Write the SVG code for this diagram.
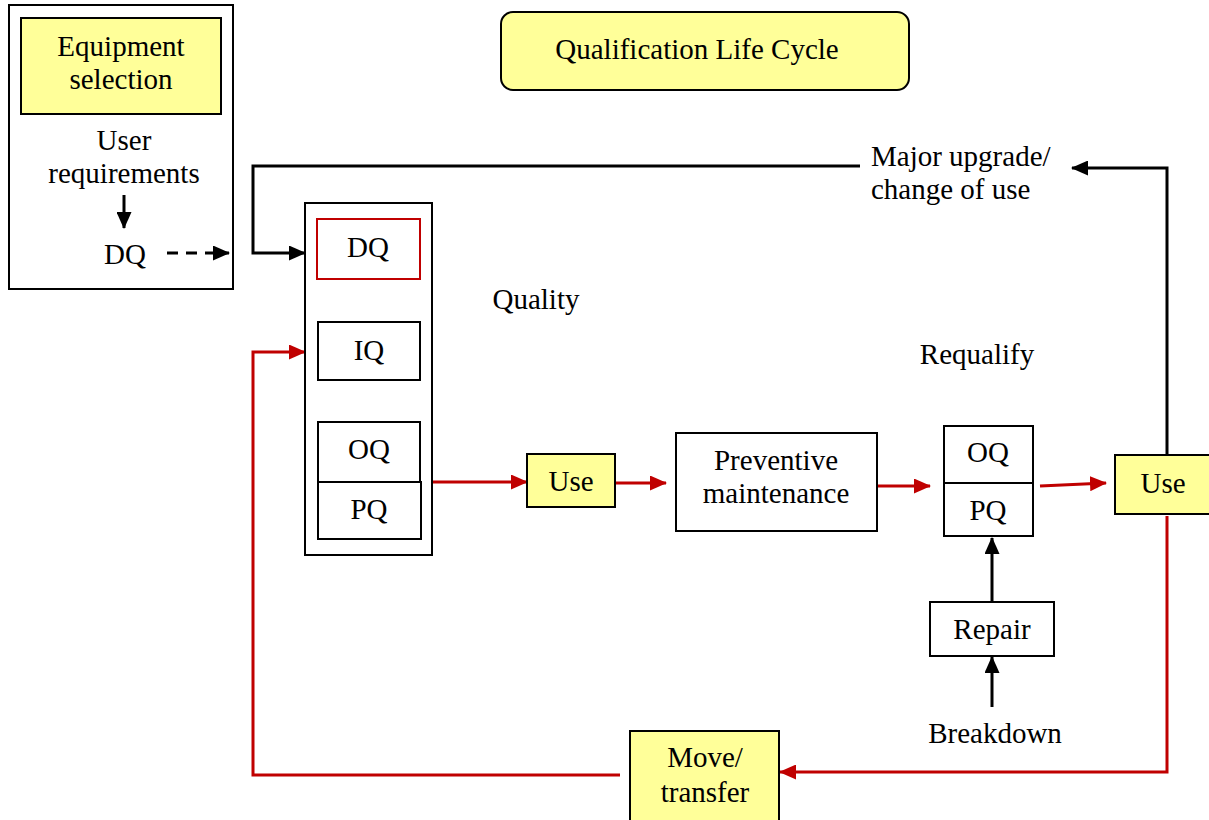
<svg xmlns="http://www.w3.org/2000/svg" width="1209" height="820" viewBox="0 0 1209 820">
<style>
text{font-family:"Liberation Serif","Times New Roman",serif;font-size:29px;fill:#000;text-anchor:middle}
.box{fill:#fff;stroke:#000;stroke-width:2}
.yel{fill:#ffff99;stroke:#000;stroke-width:2}
.blk{fill:none;stroke:#000;stroke-width:3}
.red{fill:none;stroke:#c00000;stroke-width:3}
</style>
<defs>
<marker id="ab" markerUnits="userSpaceOnUse" markerWidth="17" markerHeight="15" refX="16" refY="7.5" orient="auto"><path d="M0,0 L17,7.5 L0,15 z" fill="#000"/></marker>
<marker id="ar" markerUnits="userSpaceOnUse" markerWidth="17" markerHeight="15" refX="16" refY="7.5" orient="auto"><path d="M0,0 L17,7.5 L0,15 z" fill="#c00000"/></marker>
</defs>
<rect width="1209" height="820" fill="#fff"/>
<g id="left-panel">
<rect x="9" y="5" width="224" height="284" fill="none" stroke="#000" stroke-width="2"/>
</g>
<g id="connectors">
<path class="blk" d="M860 166 H253 V253 H305" marker-end="url(#ab)"/>
<path class="blk" d="M1167 455 V168 H1072" marker-end="url(#ab)"/>
<path class="blk" d="M167 253 H229" stroke-dasharray="11 8" marker-end="url(#ab)"/>
<path class="blk" d="M124 195 V228" marker-end="url(#ab)"/>
<path class="red" d="M620 775 H253 V352 H305" marker-end="url(#ar)"/>
<path class="red" d="M1167 516 V772 H780" marker-end="url(#ar)"/>
<path class="red" d="M432 482 H527" marker-end="url(#ar)"/>
<path class="red" d="M615 483 H666" marker-end="url(#ar)"/>
<path class="red" d="M878 486 H930" marker-end="url(#ar)"/>
<path class="red" d="M1040 486 L1106 483" marker-end="url(#ar)"/>
<path class="blk" d="M992 602 V538" marker-end="url(#ab)"/>
<path class="blk" d="M992 707 V657" marker-end="url(#ab)"/>
</g>
<g id="equipment-selection">
<rect class="yel" x="21" y="18" width="200" height="96"/>
<text x="121" y="56">Equipment</text>
<text x="121" y="89">selection</text>
</g>
<g id="user-requirements">
<text x="124" y="150">User</text>
<text x="124" y="183">requirements</text>
</g>
<g id="dq-label"><text x="125" y="264">DQ</text></g>
<g id="title">
<rect class="yel" x="501" y="12" width="408" height="78" rx="12"/>
<text x="697" y="59">Qualification Life Cycle</text>
</g>
<g id="quality-column">
<rect class="box" x="305" y="203" width="127" height="352"/>
</g>
<g id="dq"><rect x="317" y="219" width="103" height="60" fill="#fff" stroke="#c00000" stroke-width="2"/><text x="368" y="257">DQ</text></g>
<g id="iq"><rect class="box" x="318" y="322" width="102" height="58"/><text x="369" y="360">IQ</text></g>
<g id="oq"><rect class="box" x="318" y="422" width="102" height="60"/><text x="369" y="459">OQ</text></g>
<g id="pq"><rect class="box" x="318" y="482" width="103" height="57"/><text x="369" y="519">PQ</text></g>
<g id="quality-label"><text x="536" y="309">Quality</text></g>
<g id="use1"><rect class="yel" x="527" y="454" width="88" height="53"/><text x="571" y="491">Use</text></g>
<g id="preventive"><rect class="box" x="676" y="433" width="201" height="98"/><text x="776" y="470">Preventive</text><text x="776" y="503">maintenance</text></g>
<g id="requalify-label"><text x="977" y="364">Requalify</text></g>
<g id="rq-oq"><rect class="box" x="944" y="426" width="89" height="57"/><text x="988" y="462">OQ</text></g>
<g id="rq-pq"><rect class="box" x="944" y="483" width="89" height="53"/><text x="988" y="520">PQ</text></g>
<g id="use2"><rect class="yel" x="1115" y="455" width="100" height="59"/><text x="1163" y="493">Use</text></g>
<g id="major-upgrade"><text x="871" y="166" style="text-anchor:start">Major upgrade/</text><text x="871" y="199" style="text-anchor:start">change of use</text></g>
<g id="repair"><rect class="box" x="930" y="602" width="124" height="54"/><text x="992" y="639">Repair</text></g>
<g id="breakdown"><text x="995" y="743">Breakdown</text></g>
<g id="move"><rect class="yel" x="630" y="731" width="149" height="100"/><text x="705" y="767">Move/</text><text x="705" y="802">transfer</text></g>
</svg>
